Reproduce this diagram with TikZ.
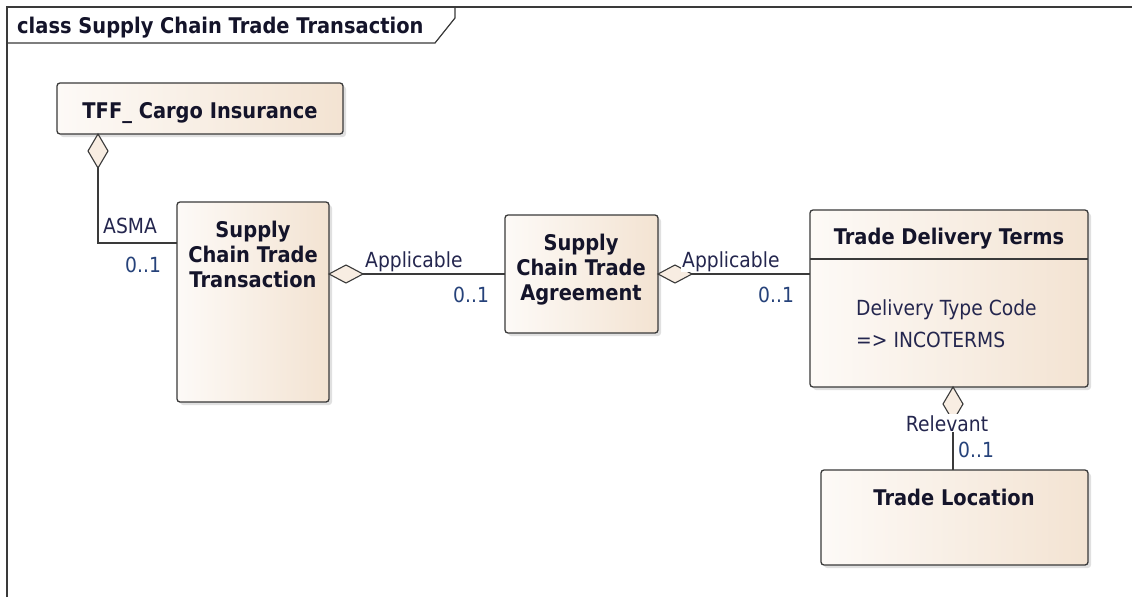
\documentclass[tikz,border=0pt]{standalone}
\usepackage{fontspec}
\setmainfont{DejaVu Sans}[FakeStretch=0.9]
\usetikzlibrary{shadows,calc}
\definecolor{boxL}{HTML}{FDFAF7}
\definecolor{boxR}{HTML}{F3E3D2}
\definecolor{edge}{HTML}{3A3A3A}
\definecolor{ink}{HTML}{14142A}
\definecolor{lbl}{HTML}{24264E}
\definecolor{mult}{HTML}{26427A}
\definecolor{diafill}{HTML}{F8EDE2}
\begin{document}
\begin{tikzpicture}[x=1pt,y=-1pt,
  umlbox/.style={draw=edge, line width=1.3pt, rounded corners=3pt, left color=boxL, right color=boxR,
    anchor=north west, inner sep=0pt, outer sep=0pt,
    drop shadow={shadow xshift=3pt, shadow yshift=-3pt, fill=black, opacity=0.12}},
  ttl/.style={font=\bfseries\fontsize{21.6}{25}\selectfont, text=ink, anchor=base, inner sep=0pt},
  attr/.style={font=\fontsize{20.8}{25}\selectfont, text=lbl, anchor=base west, inner sep=0pt},
  rolelbl/.style={font=\fontsize{20.8}{22}\selectfont, text=lbl, anchor=base west, inner sep=1pt, fill=white},
  multlbl/.style={font=\fontsize{20.8}{22}\selectfont, text=mult, anchor=base west, inner sep=1pt},
  conn/.style={draw=edge, line width=1.2pt},
  dia/.style={draw=edge, line width=1.1pt, fill=diafill, line join=miter}
]
\useasboundingbox (0,0) rectangle (1132,597);
\fill[white] (0,0) rectangle (1132,597);

% frame
\draw[edge, line width=1.7pt] (7,597) -- (7,7) -- (1132,7);
\draw[edge, line width=1.2pt] (7,43) -- (435,43) -- (455,18) -- (455,7);
\node[font=\bfseries\fontsize{21.6}{24}\selectfont, text=ink, anchor=base west, inner sep=0pt] (frametitle) at (17,33) {class Supply Chain Trade Transaction};

% boxes
\node[umlbox, minimum width=286pt, minimum height=51pt] (cargo) at (57,83) {};
\node[umlbox, minimum width=152pt, minimum height=200pt] (trans) at (177,202) {};
\node[umlbox, minimum width=153pt, minimum height=118pt] (agree) at (505,215) {};
\node[umlbox, minimum width=278pt, minimum height=177pt] (terms) at (810,210) {};
\node[umlbox, minimum width=267pt, minimum height=95pt] (loc) at (821,470) {};
\draw[edge, line width=1.3pt] (terms.west |- 0,259) -- (terms.east |- 0,259);

% box texts
\node[ttl] (cargoT) at (200,118) {TFF\_ Cargo Insurance};
\node[ttl] (transT1) at (253,237) {Supply};
\node[ttl] (transT2) at (253,262) {Chain Trade};
\node[ttl] (transT3) at (253,287) {Transaction};
\node[ttl] (agreeT1) at (581,250) {Supply};
\node[ttl] (agreeT2) at (581,275) {Chain Trade};
\node[ttl] (agreeT3) at (581,300) {Agreement};
\node[ttl] (termsT) at (949,244) {Trade Delivery Terms};
\node[attr] (termsA1) at (856,315) {Delivery Type Code};
\node[attr] (termsA2) at (856,347) {=> INCOTERMS};
\node[ttl] (locT) at (954,505) {Trade Location};

% connector ASMA
\coordinate (d1t) at (98,0 |- cargo.south);
\coordinate (d1b) at ($(d1t)+(0,34)$);
\draw[conn] (d1b) |- (trans.west |- 0,243);
\draw[dia] (d1t) -- ++(10,17) -- ++(-10,17) -- ++(-10,-17) -- cycle;

% connector Applicable 1
\coordinate (d2t) at (trans.east |- 0,274);
\coordinate (d2e) at ($(d2t)+(34,0)$);
\draw[conn] (d2e) -- (agree.west |- d2e);
\draw[dia] (d2t) -- ++(17,-9) -- ++(17,9) -- ++(-17,9) -- cycle;

% connector Applicable 2
\coordinate (d3t) at (agree.east |- 0,274);
\coordinate (d3e) at ($(d3t)+(34,0)$);
\draw[conn] (d3e) -- (terms.west |- d3e);
\draw[dia] (d3t) -- ++(17,-9) -- ++(17,9) -- ++(-17,9) -- cycle;

% connector Relevant
\coordinate (d4t) at (953,0 |- terms.south);
\coordinate (d4b) at ($(d4t)+(0,34)$);
\draw[conn] (d4b) -- (d4b |- loc.north);
\draw[dia] (d4t) -- ++(10,17) -- ++(-10,17) -- ++(-10,-17) -- cycle;

% labels
\node[rolelbl] (asma) at (102,233) {ASMA};
\node[multlbl] (m1) at (124,272) {0..1};
\node[rolelbl] (app1) at (364,267) {Applicable};
\node[multlbl] (m2) at (452,302) {0..1};
\node[rolelbl] (app2) at (681,267) {Applicable};
\node[multlbl] (m3) at (757,302) {0..1};
\node[rolelbl, anchor=base] (rel) at (947,431) {Relevant};
\node[multlbl] (m4) at (957,457) {0..1};
\end{tikzpicture}
\end{document}
